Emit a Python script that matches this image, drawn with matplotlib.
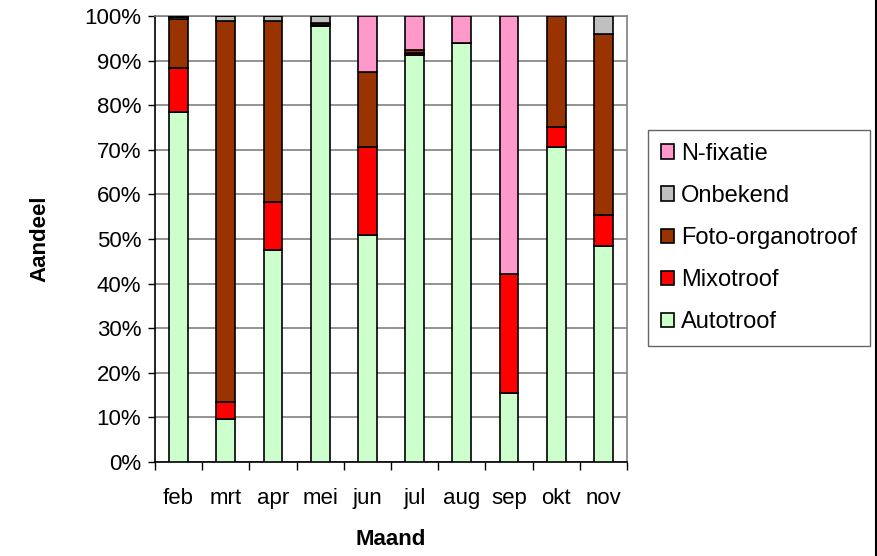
import matplotlib.pyplot as plt
import numpy as np
from matplotlib.lines import Line2D

plt.rcParams['font.family'] = ['Liberation Sans', 'DejaVu Sans']

# months and shares (%) per category, bottom to top
months = ['feb', 'mrt', 'apr', 'mei', 'jun', 'jul', 'aug', 'sep', 'okt', 'nov']
autotroof = [78.5, 9.6, 47.5, 97.8, 51.0, 91.3, 93.9, 15.5, 70.7, 48.5]
mixotroof = [9.9, 3.9, 10.9, 0.2, 19.7, 0.3, 0.0, 26.6, 4.5, 6.9]
foto_organotroof = [10.9, 85.4, 40.4, 0.5, 16.8, 0.8, 0.0, 0.0, 24.8, 40.5]
onbekend = [0.5, 1.1, 1.2, 1.5, 0.0, 0.0, 0.0, 0.0, 0.0, 4.1]
n_fixatie = [0.2, 0.0, 0.0, 0.0, 12.5, 7.6, 6.1, 57.9, 0.0, 0.0]

series = [
    ('Autotroof', autotroof, '#CCFFCC'),
    ('Mixotroof', mixotroof, '#FF0000'),
    ('Foto-organotroof', foto_organotroof, '#993300'),
    ('Onbekend', onbekend, '#C0C0C0'),
    ('N-fixatie', n_fixatie, '#FF99CC'),
]

fig = plt.figure(figsize=(8.78, 5.56), dpi=100)
ax = fig.add_axes([155 / 878, 1 - 462 / 556, 472 / 878, 446 / 556])

x = np.arange(len(months))
bottom = np.zeros(len(months))
handles = []
for name, vals, col in series:
    vals = np.array(vals)
    b = ax.bar(x, vals, 0.4, bottom=bottom, color=col, edgecolor='black',
               linewidth=1.2, label=name, zorder=3)
    handles.append(b)
    bottom += vals

ax.set_xlim(-0.5, len(months) - 0.5)
ax.set_ylim(0, 100)
ax.set_yticks(np.arange(0, 101, 10))
ax.set_yticklabels([f'{v}%' for v in range(0, 101, 10)], fontsize=16)
ax.set_xticks(x)
ax.set_xticklabels(months, fontsize=16)
ax.set_xticks(np.arange(-0.5, len(months)), minor=True)
ax.tick_params(axis='x', which='major', length=0, pad=19)
ax.tick_params(axis='x', which='minor', length=6, width=1, direction='out')
ax.tick_params(axis='y', length=5, width=1, direction='out', pad=5)

ax.yaxis.grid(True, color='#808080', linewidth=1.2, zorder=0)
ax.set_axisbelow(True)
for s in ['top', 'right']:
    ax.spines[s].set_color('#808080')
    ax.spines[s].set_linewidth(1.2)
for s in ['left', 'bottom']:
    ax.spines[s].set_color('black')
    ax.spines[s].set_linewidth(1.2)

ax.set_ylabel('Aandeel', fontsize=16, fontweight='bold', labelpad=24)
ax.set_xlabel('Maand', fontsize=16, fontweight='bold', labelpad=14)

leg = fig.legend(handles[::-1], [s[0] for s in series][::-1],
                 loc='center left', bbox_to_anchor=(648 / 878, 1 - 238 / 556),
                 fontsize=17, frameon=True, fancybox=False, shadow=False,
                 handlelength=0.55, handleheight=0.55, handletextpad=0.3,
                 labelspacing=0.85, borderpad=0.55, borderaxespad=0)
leg.get_frame().set_edgecolor('#404040')
leg.get_frame().set_linewidth(1.0)

# outer chart border on the right
fig.add_artist(Line2D([876 / 878, 876 / 878], [0, 1], color='black', linewidth=1.5))

plt.savefig('out.png', dpi=100)
